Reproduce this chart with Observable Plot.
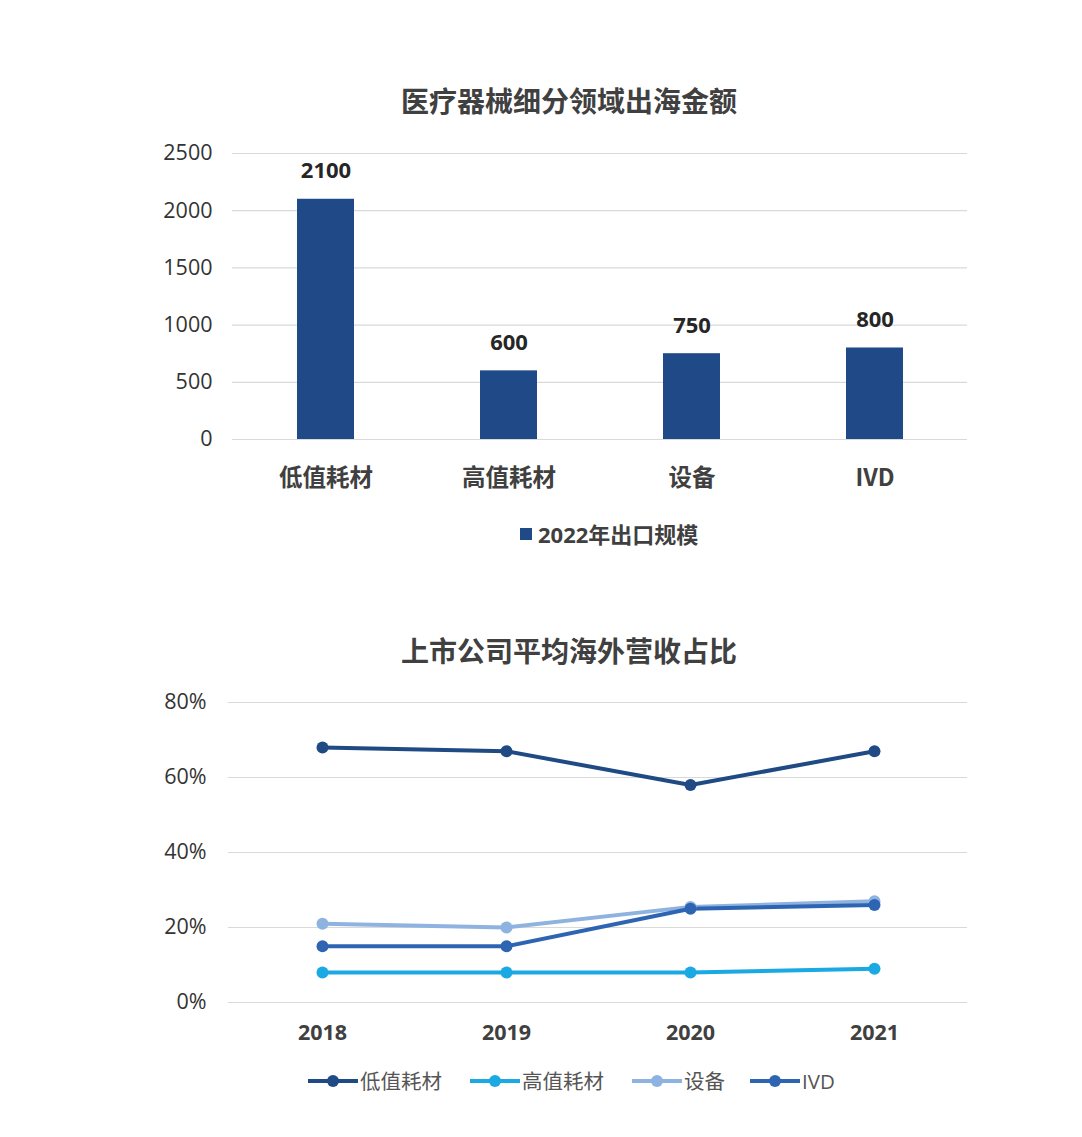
<!DOCTYPE html>
<html><head><meta charset="utf-8">
<script src="https://cdn.jsdelivr.net/npm/d3@7"></script>
<script src="https://cdn.jsdelivr.net/npm/@observablehq/plot@0.6"></script>
<style>
body{margin:0;background:#fff;font-family:"Open Sans","Noto Sans CJK SC",sans-serif;}
#page{position:relative;width:1082px;height:1137px;overflow:hidden;}
.abs{position:absolute;}
.title{font-family:"Noto Sans CJK SC",sans-serif;font-weight:700;font-size:28px;color:#404040;left:0;width:1082px;text-align:center;line-height:1;}
.leg{font-size:20.5px;color:#555;display:flex;align-items:center;line-height:1;white-space:nowrap;}
</style></head>
<body><div id="page"></div>
<script>
// ---- data ----
const barTitle = "医疗器械细分领域出海金额";
const lineTitle = "上市公司平均海外营收占比";
const categories = ["低值耗材", "高值耗材", "设备", "IVD"];
const exportValues = [2100, 600, 750, 800];
const barSeriesName = "2022年出口规模";
const barTicks = [0, 500, 1000, 1500, 2000, 2500];

const years = ["2018", "2019", "2020", "2021"];
const lowValue = [68, 67, 58, 67];
const highValue = [8, 8, 8, 9];
const equipment = [21, 20, 25.5, 27];
const ivd = [15, 15, 25, 26];
const lineTicks = [0, 20, 40, 60, 80];

const seriesNames = ["低值耗材", "高值耗材", "设备", "IVD"];
const seriesColors = ["#1f4a84", "#1aa9e2", "#8fb3e0", "#2e65b2"];
const barColor = "#1f4a87";

const page = document.getElementById("page");
const W = 1082;

// ---- titles ----
function addTitle(text, top){
  const d = document.createElement("div");
  d.className = "abs title"; d.textContent = text; d.style.top = top + "px";
  d.style.left = "28px";
  page.appendChild(d);
}
addTitle(barTitle, 86);
addTitle(lineTitle, 636);

// ---- bar chart ----
const barData = categories.map((c, i) => ({category: c, value: exportValues[i]}));
const bar = Plot.plot({
  width: W, height: 500,
  marginLeft: 232, marginRight: 115, marginTop: 153, marginBottom: 61,
  style: {fontFamily: '"Open Sans","Noto Sans CJK SC",sans-serif', background: "transparent"},
  x: {domain: categories, paddingInner: 0.69, paddingOuter: 0.345, label: null},
  y: {domain: [0, 2500], label: null},
  marks: [
    Plot.gridY(barTicks, {stroke: "#d9d9d9", strokeOpacity: 1, strokeWidth: 1.2}),
    Plot.axisY(barTicks, {tickSize: 0, tickPadding: 20, fontSize: 21.5, fill: "#333", tickFormat: d => String(d), label: null}),
    Plot.axisX({tickSize: 0, tickPadding: 30, fontSize: 23.5, fontWeight: 600, fill: "#404040", fontFamily: '"Noto Sans CJK SC","Open Sans",sans-serif', label: null}),
    Plot.barY(barData, {x: "category", y: "value", fill: barColor}),
    Plot.text(barData, {x: "category", y: "value", text: d => String(d.value), dy: -28, fontSize: 22, fontWeight: 700, fill: "#262626"})
  ]
});
bar.classList.add("abs"); bar.style.left = "0px"; bar.style.top = "0px";
page.appendChild(bar);

// bar legend
const leg1 = document.createElement("div");
leg1.className = "abs leg";
leg1.style.left = "520px"; leg1.style.top = "523px";
leg1.style.fontWeight = "700"; leg1.style.color = "#404040"; leg1.style.fontSize = "22px";
leg1.innerHTML = `<span style="display:inline-block;width:12px;height:12px;background:${barColor};margin-right:6px"></span><span>${barSeriesName}</span>`;
page.appendChild(leg1);

// ---- line chart ----
const seriesValues = [lowValue, highValue, equipment, ivd];
const lineData = [];
seriesNames.forEach((s, si) => years.forEach((y, yi) => lineData.push({series: s, year: y, value: seriesValues[si][yi]})));
const colorScale = {domain: seriesNames, range: seriesColors};
const line = Plot.plot({
  width: W, height: 400,
  marginLeft: 228, marginRight: 115, marginTop: 42, marginBottom: 58,
  style: {fontFamily: '"Open Sans","Noto Sans CJK SC",sans-serif', background: "transparent"},
  x: {type: "point", domain: years, padding: 0.5, label: null},
  y: {domain: [0, 80], label: null},
  color: colorScale,
  marks: [
    Plot.gridY(lineTicks, {stroke: "#d9d9d9", strokeOpacity: 1, strokeWidth: 1.2}),
    Plot.axisY(lineTicks, {tickSize: 0, tickPadding: 22, fontSize: 21.5, fill: "#333", tickFormat: d => d + "%", label: null}),
    Plot.axisX({tickSize: 0, tickPadding: 22, fontSize: 21.5, fontWeight: 700, fill: "#404040", label: null}),
    Plot.line(lineData, {x: "year", y: "value", z: "series", stroke: "series", strokeWidth: 4}),
    Plot.dot(lineData, {x: "year", y: "value", fill: "series", r: 6})
  ]
});
line.classList.add("abs"); line.style.left = "0px"; line.style.top = "660px";
page.appendChild(line);

// line legend
const legPos = [308, 470, 632, 750];
seriesNames.forEach((s, i) => {
  const d = document.createElement("div");
  d.className = "abs leg";
  d.style.left = legPos[i] + "px"; d.style.top = "1069px";
  d.innerHTML = `<svg width="50" height="24" style="margin-right:2px"><line x1="0" x2="50" y1="12" y2="12" stroke="${seriesColors[i]}" stroke-width="4"/><circle cx="25" cy="12" r="6" fill="${seriesColors[i]}"/></svg><span>${s}</span>`;
  page.appendChild(d);
});
</script></body></html>
